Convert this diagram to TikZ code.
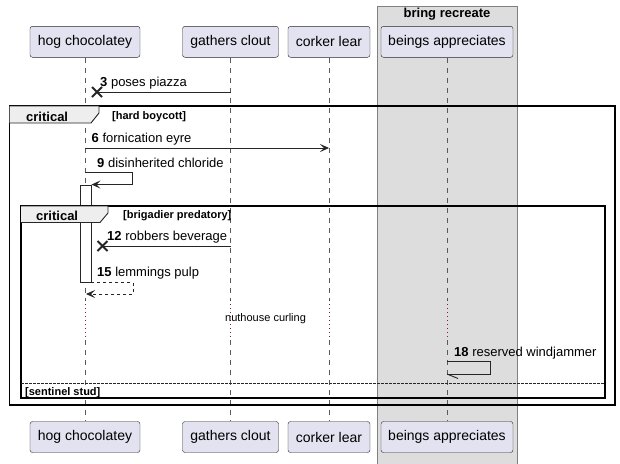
\documentclass[tikz,border=0pt]{standalone}
\usepackage{fontspec}
\setmainfont{Liberation Sans}
\usetikzlibrary{arrows.meta}
\definecolor{actorfill}{HTML}{E2E2F0}
\definecolor{groupfill}{HTML}{DDDDDD}
\definecolor{tabfill}{HTML}{EEEEEE}
\definecolor{delayred}{HTML}{8B1A3A}
\tikzset{
  actorbox/.style={draw=black!85, fill=actorfill, rounded corners=2.5pt, minimum height=31pt, inner sep=0pt, font=\fontsize{14}{16}\selectfont},
  lifeline/.style={draw=black!65, line width=0.6pt, dash pattern=on 5pt off 5pt},
  delayline/.style={draw=delayred, line width=0.8pt, dash pattern=on 1pt off 3pt},
  msgline/.style={draw=black!85, line width=0.9pt},
  msg/.style={msgline, -{Stealth[length=9pt, width=8pt, inset=4pt]}},
  lost/.style={draw=black!85, line width=1.8pt},
  msglabel/.style={anchor=base west, inner sep=0pt, font=\fontsize{13}{15}\selectfont},
  framebox/.style={draw=black, line width=1.6pt},
  tab/.style={draw=black!85, line width=0.9pt, fill=tabfill},
  framelabel/.style={anchor=base west, inner sep=0pt, font=\bfseries\fontsize{13}{15}\selectfont},
  guardlabel/.style={anchor=base west, inner sep=0pt, font=\bfseries\fontsize{11}{13}\selectfont},
  actbar/.style={draw=black!85, fill=white, line width=0.9pt, inner sep=0pt}
}
\begin{document}
\begin{tikzpicture}[x=1pt,y=-1pt]
\useasboundingbox (0,0) rectangle (620,463);
\fill[white] (0,0) rectangle (620,463);
\draw[fill=groupfill, draw=black!50, line width=0.9pt] (377,6) rectangle (517,470);
\node[guardlabel, font=\bfseries\fontsize{13}{15}\selectfont, anchor=base] (grp) at (447,17.5) {bring recreate};
\node[actorbox, minimum width=110pt] (hogT) at (85,41.8) {hog chocolatey};
\node[actorbox, minimum width=96pt] (gatT) at (230.5,41.8) {gathers clout};
\node[actorbox, minimum width=82pt] (corT) at (329,41.8) {corker lear};
\node[actorbox, minimum width=132pt] (beiT) at (447,41.8) {beings appreciates};
\node[actorbox, minimum width=110pt] (hogB) at (85,437) {hog chocolatey};
\node[actorbox, minimum width=96pt] (gatB) at (230.5,437) {gathers clout};
\node[actorbox, minimum width=82pt] (corB) at (329,437) {corker lear};
\node[actorbox, minimum width=132pt] (beiB) at (447,437) {beings appreciates};
\coordinate (delayTop) at (0,300);
\coordinate (delayBot) at (0,340);
\foreach \p in {hog,gat,cor,bei} {
  \draw[lifeline] (\p T.south) -- (\p T.south |- delayTop);
  \draw[delayline] (\p T.south |- delayTop) -- (\p T.south |- delayBot);
  \draw[lifeline] (\p T.south |- delayBot) -- (\p B.north);
}
\node[actbar, minimum width=11pt, minimum height=97pt] (act) at (85.5,233.5) {};
\coordinate (m3s) at (230.5,92);
\coordinate (m3x) at (97,92);
\draw[msgline] (m3s) -- (m3x);
\draw[lost] (m3x) +(-5,-5) -- +(5,5) (m3x) +(-5,5) -- +(5,-5);
\node[msglabel] (l3) at (100,86) {\textbf{3} poses piazza};
\draw[framebox] (9.5,106) -- (615,106) -- (615,405) -- (9.5,405) -- cycle;
\draw[tab] (9.5,106) -- (99,106) -- (99,113) -- (91,123) -- (9.5,123);
\node[framelabel] (c1) at (26,121) {critical};
\node[guardlabel] (g1) at (112,119.5) {[hard boycott]};
\coordinate (m6s) at (85,148);
\coordinate (m6e) at (329,148);
\draw[msg] (m6s) -- (m6e);
\node[msglabel] (l6) at (91.5,142) {\textbf{6} fornication eyre};
\coordinate (m9s) at (85,172.5);
\draw[msg] (m9s) -- ++(47,0) |- (act.north east);
\node[msglabel] (l9) at (97,167) {\textbf{9} disinherited chloride};
\draw[framebox] (21,206) -- (605,206) -- (605,398) -- (21,398) -- cycle;
\draw[tab] (21,206) -- (108,206) -- (108,213) -- (100,222.5) -- (21,222.5);
\node[framelabel] (c2) at (36,220.5) {critical};
\node[guardlabel] (g2) at (123,218.5) {[brigadier predatory]};
\coordinate (m12s) at (230.5,246);
\coordinate (m12x) at (102.5,246);
\draw[msgline] (m12s) -- (m12x);
\draw[lost] (m12x) +(-5,-5) -- +(5,5) (m12x) +(-5,5) -- +(5,-5);
\node[msglabel] (l12) at (107,240.5) {\textbf{12} robbers beverage};
\coordinate (m15e) at (86,294);
\draw[msg, dashed] (act.south east) -- ++(41.5,0) |- (m15e);
\node[msglabel] (l15) at (97,276.5) {\textbf{15} lemmings pulp};
\node[guardlabel, font=\fontsize{11}{13}\selectfont] (dly) at (225,321.5) {nuthouse curling};
\coordinate (m18s) at (447,361);
\coordinate (m18e) at (447,374);
\draw[msgline] (m18s) -- ++(43,0) |- (m18e);
\draw[msgline] (m18e) -- ++(11,4.5);
\node[msglabel] (l18) at (454,356.5) {\textbf{18} reserved windjammer};
\draw[black!85, line width=0.8pt, dash pattern=on 2.5pt off 1.5pt] (21,383) -- (605,383);
\node[guardlabel] (g3) at (25,395) {[sentinel stud]};
\end{tikzpicture}
\end{document}
